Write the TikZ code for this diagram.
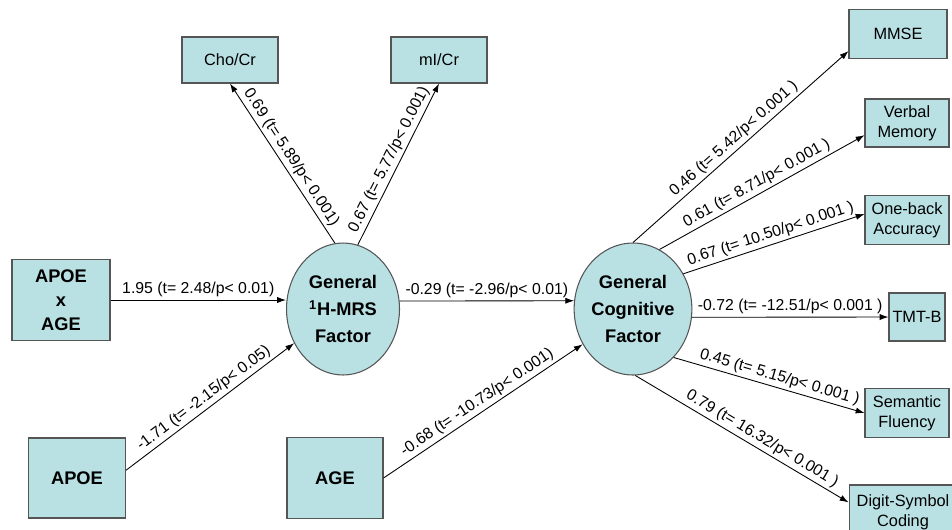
\documentclass[tikz,border=0pt]{standalone}
\usepackage{fontspec}
\setmainfont{Liberation Sans}
\usetikzlibrary{shapes,calc,arrows.meta}
\definecolor{boxfill}{RGB}{185,225,228}
\definecolor{boxline}{RGB}{85,85,85}

\begin{document}
\begin{tikzpicture}[x=0.02cm, y=-0.02cm,
        var/.style={draw=boxline, fill=boxfill, line width=0.6pt, inner sep=0pt, align=center},
        obs/.style={var, font=\fontsize{10.4}{13.6}\selectfont\bfseries},
        ind/.style={var, font=\fontsize{9.3}{11.3}\selectfont},
        lat/.style={var, ellipse, font=\fontsize{10.4}{15.3}\selectfont\bfseries},
        link/.style={-{Latex[length=5pt,width=3.5pt]}, line width=0.5pt},
        coef/.style={sloped, above, font=\fontsize{9}{10}\selectfont, inner sep=1.5pt}]
        \useasboundingbox (0,0) rectangle (952,529);
        % latent factors
        \node[lat, minimum width=2.26cm, minimum height=2.64cm] (mrs) at (343,309) {General\\\textsuperscript{1}H-MRS\\Factor};
        \node[lat, minimum width=2.24cm, minimum height=2.64cm] (cog) at (633,309) {General\\Cognitive\\Factor};
        % predictors
        \node[obs, minimum width=1.96cm, minimum height=1.62cm] (apoeage) at (61,300) {APOE\\x\\AGE};
        \node[obs, minimum width=1.94cm, minimum height=1.6cm] (apoe) at (77,478) {APOE};
        \node[obs, minimum width=1.92cm, minimum height=1.62cm] (age) at (335,478) {AGE};
        % indicators
        \node[ind, minimum width=1.92cm, minimum height=0.92cm] (cho) at (230,60) {Cho/Cr};
        \node[ind, minimum width=1.92cm, minimum height=0.92cm] (mi) at (439,60) {mI/Cr};
        \node[ind, minimum width=1.96cm, minimum height=0.98cm] (mmse) at (898,34) {MMSE};
        \node[ind, minimum width=1.68cm, minimum height=0.96cm] (verbal) at (907,123) {Verbal\\Memory};
        \node[ind, minimum width=1.68cm, minimum height=0.98cm] (oneback) at (907,220) {One-back\\Accuracy};
        \node[ind, minimum width=1.12cm, minimum height=0.96cm] (tmtb) at (917,317) {TMT-B};
        \node[ind, minimum width=1.68cm, minimum height=0.98cm] (semantic) at (907,413) {Semantic\\Fluency};
        \node[ind, minimum width=2.16cm, minimum height=1.08cm] (digit) at (903,512) {Digit-Symbol\\Coding};
        % paths
        \draw[link] (apoeage.east) -- (apoeage.east -| mrs.west) node[coef, midway] {1.95 (t= 2.48/p< 0.01)};
        \draw[link] (apoe.9) -- (mrs.215) node[coef, midway] {-1.71 (t= -2.15/p< 0.05)};
        \draw[link] (mrs.97) -- (cho.south) node[coef, midway] {0.69 (t= 5.89/p< 0.001)};
        \draw[link] (mrs.77) -- (mi.south) node[coef, midway] {0.67 (t= 5.77/p< 0.001)};
        \draw[link] (mrs.8) -- (cog.172) node[coef, midway] {-0.29 (t= -2.96/p< 0.01)};
        \draw[link] (age.east) -- (cog.215) node[coef, midway] {-0.68 (t= -10.73/p< 0.001)};
        \draw[link] (cog.90) -- (mmse.199) node[coef, midway] {0.46 (t= 5.42/p< 0.001 )};
        \draw[link] (cog.66) -- (verbal.196) node[coef, midway] {0.61 (t= 8.71/p< 0.001 )};
        \draw[link] (cog.35) -- (oneback.172) node[coef, midway] {0.67 (t= 10.50/p< 0.001 )};
        \draw[link] (cog.-8) -- (tmtb.west) node[coef, midway] {-0.72 (t= -12.51/p< 0.001 )};
        \draw[link] (cog.-50) -- (semantic.west) node[coef, pos=0.54] {0.45 (t= 5.15/p< 0.001 )};
        \draw[link] (cog.-88) -- (digit.170) node[coef, pos=0.57] {0.79 (t= 16.32/p< 0.001 )};
    \end{tikzpicture}
\end{document}
